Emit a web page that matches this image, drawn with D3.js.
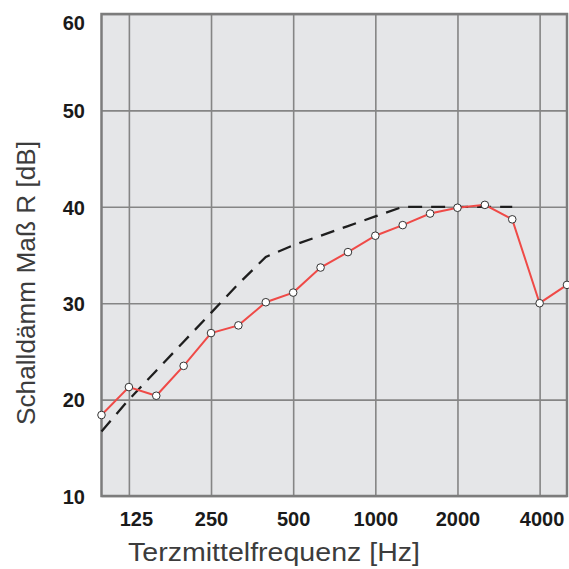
<!DOCTYPE html>
<html>
<head>
<meta charset="utf-8">
<script src="https://cdn.jsdelivr.net/npm/d3@7"></script>
<style>
  html, body { margin: 0; padding: 0; background: #fff; }
  svg { display: block; }
</style>
</head>
<body>
<div id="chart"></div>
<script>
// third-octave bands
const bands = ["100", "125", "160", "200", "250", "315", "400", "500", "630", "800",
               "1000", "1250", "1600", "2000", "2500", "3150", "4000", "5000"];
const measured = [18.4, 21.3, 20.4, 23.5, 26.9, 27.7, 30.1, 31.1, 33.7, 35.3,
                  37.0, 38.1, 39.3, 39.9, 40.2, 38.7, 30.0, 31.9];
// shifted reference curve, 100..3150 Hz
const refBands = ["100", "125", "160", "200", "250", "315", "400", "500", "630", "800",
                  "1000", "1250", "1600", "2000", "2500", "3150"];
const reference = [16.7, 20, 23, 26, 29, 32, 34.8, 36, 37, 38, 39, 40, 40, 40, 40, 40];
const xTicks = ["125", "250", "500", "1000", "2000", "4000"];
const yTicks = [10, 20, 30, 40, 50, 60];

const width = 569, height = 569;
const plot = {left: 101.5, right: 567, top: 14, bottom: 496};

const svg = d3.select("#chart").append("svg")
    .attr("width", width)
    .attr("height", height);

const x = d3.scalePoint().domain(bands).range([plot.left, plot.right]);
const y = d3.scaleLinear().domain([10, 60]).range([plot.bottom, plot.top]);

// plot background
svg.append("rect")
    .attr("x", plot.left).attr("y", plot.top)
    .attr("width", plot.right - plot.left).attr("height", plot.bottom - plot.top)
    .attr("fill", "#e5e6e8");

// grid
svg.append("g")
    .attr("transform", "translate(0," + plot.bottom + ")")
    .call(d3.axisBottom(x).tickValues(xTicks).tickSize(-(plot.bottom - plot.top)).tickFormat(""))
    .call(g => g.select(".domain").remove())
    .call(g => g.selectAll("line").attr("stroke", "#858585").attr("stroke-width", 1.6));

svg.append("g")
    .attr("transform", "translate(" + plot.left + ",0)")
    .call(d3.axisLeft(y).tickValues(yTicks).tickSize(-(plot.right - plot.left)).tickFormat(""))
    .call(g => g.select(".domain").remove())
    .call(g => g.selectAll("line").attr("stroke", "#858585").attr("stroke-width", 1.6));

// frame
svg.append("rect")
    .attr("x", plot.left).attr("y", plot.top)
    .attr("width", plot.right - plot.left).attr("height", plot.bottom - plot.top)
    .attr("fill", "none")
    .attr("stroke", "#7c7c7c")
    .attr("stroke-width", 2.5);

// tick labels
const labelFont = "'Liberation Sans', Arial, sans-serif";
const xShift = {"125": 7, "4000": 2};
svg.append("g")
    .attr("transform", "translate(0," + plot.bottom + ")")
    .call(d3.axisBottom(x).tickValues(xTicks).tickSize(0).tickPadding(0))
    .call(g => g.select(".domain").remove())
    .call(g => g.selectAll("text")
        .attr("y", 30)
        .attr("dy", null)
        .attr("dx", d => xShift[d] || 0)
        .attr("fill", "#1a1a1a")
        .style("font-family", labelFont)
        .style("font-weight", "bold")
        .style("font-size", "20px"));

svg.append("g")
    .attr("transform", "translate(" + 85 + ",0)")
    .call(d3.axisLeft(y).tickValues(yTicks).tickSize(0).tickPadding(0))
    .call(g => g.select(".domain").remove())
    .call(g => g.selectAll("text")
        .attr("x", 0)
        .attr("dy", d => d === 60 ? "0.75em" : "0.36em")
        .attr("fill", "#1a1a1a")
        .style("font-family", labelFont)
        .style("font-weight", "bold")
        .style("font-size", "20px"));

// reference curve (dashed)
const refLine = d3.line()
    .x((d, i) => x(refBands[i]))
    .y(d => y(d));
svg.append("path")
    .datum(reference)
    .attr("d", refLine)
    .attr("fill", "none")
    .attr("stroke", "#1e1e1e")
    .attr("stroke-width", 2.3)
    .attr("stroke-dasharray", "14,9");

// measured curve
const line = d3.line()
    .x((d, i) => x(bands[i]))
    .y(d => y(d));
svg.append("path")
    .datum(measured)
    .attr("d", line)
    .attr("fill", "none")
    .attr("stroke", "#ef4a47")
    .attr("stroke-width", 2);

svg.selectAll("circle.pt")
    .data(measured)
    .enter()
    .append("circle")
    .attr("class", "pt")
    .attr("cx", (d, i) => x(bands[i]))
    .attr("cy", d => y(d))
    .attr("r", 3.8)
    .attr("fill", "#fff")
    .attr("stroke", "#333")
    .attr("stroke-width", 1);

// axis titles
svg.append("text")
    .attr("x", 128)
    .attr("y", 561)
    .attr("textLength", 292)
    .attr("lengthAdjust", "spacingAndGlyphs")
    .attr("fill", "#3c3c3c")
    .style("font-family", labelFont)
    .style("font-size", "26px")
    .text("Terzmittelfrequenz [Hz]");

svg.append("text")
    .attr("transform", "translate(35,425) rotate(-90)")
    .attr("x", 0)
    .attr("y", 0)
    .attr("textLength", 284)
    .attr("lengthAdjust", "spacingAndGlyphs")
    .attr("fill", "#3c3c3c")
    .style("font-family", labelFont)
    .style("font-size", "26px")
    .text("Schalldämm Maß R [dB]");
</script>
</body>
</html>
